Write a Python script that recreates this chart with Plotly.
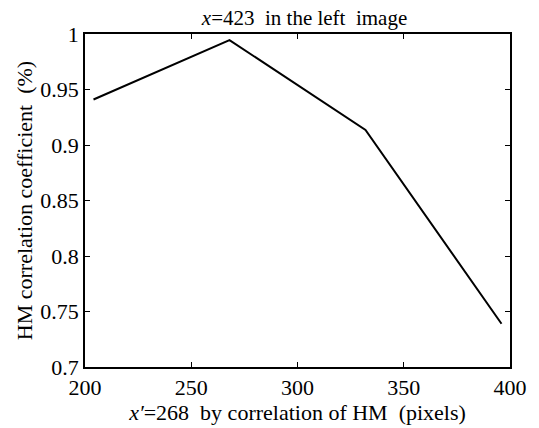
import plotly.graph_objects as go

x_pixels = [204, 268, 332, 396]
corr = [0.941, 0.9945, 0.9135, 0.739]

x_ticks = [200, 250, 300, 350, 400]
x_ticktext = ["200", "250", "300", "350", "400"]
y_ticks = [0.7, 0.75, 0.8, 0.85, 0.9, 0.95, 1.0]
y_ticktext = ["0.7", "0.75", "0.8", "0.85", "0.9", "0.95", "1"]

title_text = "<i>x</i>=423  in the left  image"
x_title = "<i>x′</i>=268  by correlation of HM  (pixels)"
y_title = "HM correlation coefficient  (%)"

font_family = "'Liberation Serif', 'Times New Roman', 'DejaVu Serif', serif"
fs = 22

fig = go.Figure()
fig.add_trace(go.Scatter(x=x_pixels, y=corr, mode="lines",
                         line=dict(color="black", width=2), showlegend=False))

axis_common = dict(showgrid=False, zeroline=False, showline=True, linecolor="black",
                   linewidth=1.5, mirror="ticks", ticks="inside", ticklen=5,
                   tickcolor="black", tickwidth=1,
                   tickfont=dict(family=font_family, size=fs, color="black"))

fig.update_layout(
    width=539, height=428,
    margin=dict(l=85, r=22, t=34, b=60),
    paper_bgcolor="white", plot_bgcolor="white",
    font=dict(family=font_family, size=fs, color="black"),
    title=dict(text=title_text, x=0.565, xanchor="center", y=0.975, yanchor="top",
               font=dict(family=font_family, size=fs - 1, color="black")),
    xaxis=dict(range=[200, 400], tickvals=x_ticks, ticktext=x_ticktext,
               title=dict(text=x_title, standoff=0,
                          font=dict(family=font_family, size=fs, color="black")),
               **axis_common),
    yaxis=dict(range=[0.7, 1.0], tickvals=y_ticks, ticktext=y_ticktext,
               title=dict(text=y_title, standoff=2,
                          font=dict(family=font_family, size=fs, color="black")),
               **axis_common),
)

fig.write_html("out.html")
